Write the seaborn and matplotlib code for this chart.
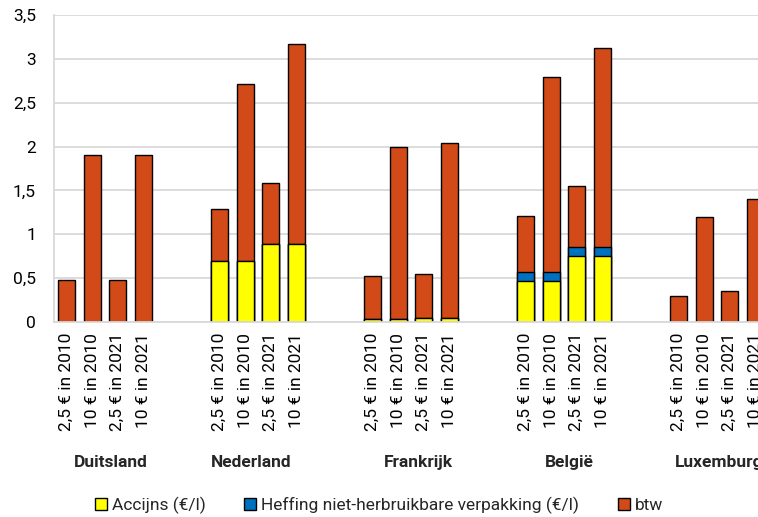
import matplotlib
matplotlib.use('Agg')
import matplotlib.pyplot as plt
import pandas as pd
import seaborn as sns
from matplotlib.ticker import FuncFormatter, MultipleLocator
from matplotlib.patches import Patch

# data
landen = ['Duitsland', 'Nederland', 'Frankrijk', 'België', 'Luxemburg']
scenarios = ['2,5 € in 2010', '10 € in 2010', '2,5 € in 2021', '10 € in 2021']

accijns_de = [0.0, 0.0, 0.0, 0.0]
accijns_nl = [0.69, 0.69, 0.885, 0.885]
accijns_fr = [0.035, 0.035, 0.04, 0.04]
accijns_be = [0.47, 0.47, 0.75, 0.75]
accijns_lu = [0.0, 0.0, 0.0, 0.0]

heffing_de = [0.0, 0.0, 0.0, 0.0]
heffing_nl = [0.0, 0.0, 0.0, 0.0]
heffing_fr = [0.0, 0.0, 0.0, 0.0]
heffing_be = [0.10, 0.10, 0.10, 0.10]
heffing_lu = [0.0, 0.0, 0.0, 0.0]

btw_de = [0.48, 1.90, 0.48, 1.90]
btw_nl = [0.60, 2.02, 0.705, 2.285]
btw_fr = [0.495, 1.965, 0.51, 2.00]
btw_be = [0.64, 2.22, 0.70, 2.27]
btw_lu = [0.30, 1.20, 0.35, 1.40]

accijns = accijns_de + accijns_nl + accijns_fr + accijns_be + accijns_lu
heffing = heffing_de + heffing_nl + heffing_fr + heffing_be + heffing_lu
btw = btw_de + btw_nl + btw_fr + btw_be + btw_lu

geel = '#FFFF00'
blauw = '#0070C0'
rood = '#D24A17'

rows = []
order = []
i = 0
for g, land in enumerate(landen):
    if g > 0:
        order += ['_gap%d_a' % g, '_gap%d_b' % g]
    for s in scenarios:
        key = land + '|' + s
        order.append(key)
        rows.append({'key': key, 'land': land, 'scenario': s,
                     'accijns': accijns[i], 'heffing': heffing[i], 'btw': btw[i]})
        i += 1
df = pd.DataFrame(rows)
df['acc_hef'] = df['accijns'] + df['heffing']
df['totaal'] = df['acc_hef'] + df['btw']

sns.set_style('white')
plt.rcParams['font.family'] = ['Roboto', 'DejaVu Sans']

fig = plt.figure(figsize=(7.58, 5.17), dpi=100)
ax = fig.add_axes([54 / 758, 195 / 517, 714 / 758, 307 / 517])

# stacked bars drawn as overlapping cumulative totals
for col, kleur in [('totaal', rood), ('acc_hef', blauw), ('accijns', geel)]:
    sns.barplot(data=df, x='key', y=col, order=order, color=kleur, saturation=1,
                width=0.67, edgecolor='black', linewidth=1, errorbar=None, ax=ax)

ax.set_ylim(0, 3.5)
ax.set_xlim(-0.5, len(order) - 0.5)
ax.yaxis.set_major_locator(MultipleLocator(0.5))
ax.yaxis.set_major_formatter(FuncFormatter(lambda v, p: ('%g' % v).replace('.', ',')))
ax.grid(axis='y', color='#d9d9d9', linewidth=1.3)
ax.set_axisbelow(True)
for side in ['top', 'right']:
    ax.spines[side].set_visible(False)
ax.spines['left'].set_color('#d9d9d9')
ax.spines['bottom'].set_color('#d9d9d9')
ax.spines['left'].set_linewidth(1.3)
ax.spines['bottom'].set_linewidth(1.3)
ax.tick_params(axis='both', length=0, labelsize=12.5, colors='black')
ax.tick_params(axis='y', pad=13)

pos = [order.index(k) for k in df['key']]
ax.set_xticks(pos)
ax.set_xticklabels(df['scenario'], rotation=90, fontsize=12.5)
ax.tick_params(axis='x', pad=8)
ax.set_xlabel('')
ax.set_ylabel('')

# country labels under each group
label_x = [1.73, 7.25, 13.8, 19.7, 23.85]
for land, x in zip(landen, label_x):
    ha = 'left' if land == 'Luxemburg' else 'center'
    ax.text(x, -1.6, land, ha=ha, va='center', fontsize=12.5, fontweight='bold', clip_on=False)

handles = [Patch(facecolor=geel, edgecolor='black', label='Accijns (€/l)'),
           Patch(facecolor=blauw, edgecolor='black', label='Heffing niet-herbruikbare verpakking (€/l)'),
           Patch(facecolor=rood, edgecolor='black', label='btw')]
fig.legend(handles=handles, loc='center', bbox_to_anchor=(0.5, 12 / 517), ncol=3,
           frameon=False, fontsize=12.5, handlelength=0.7, handleheight=0.7,
           handletextpad=0.3, columnspacing=2.2)

fig.savefig('out.png', dpi=100)
